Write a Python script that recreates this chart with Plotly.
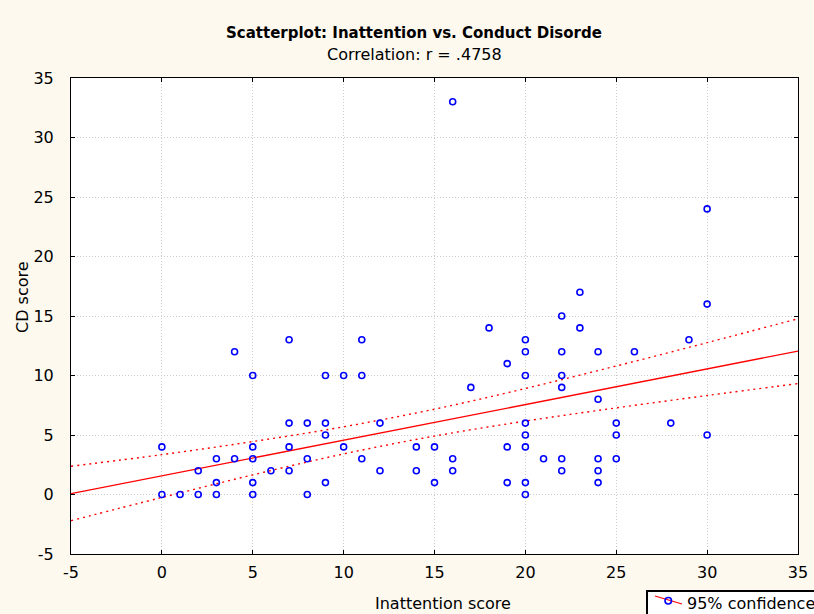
import plotly.graph_objects as go

inattention = [0, 0, 1, 2, 2, 3, 3, 3, 4, 4, 5, 5, 5, 5, 5, 6, 7, 7, 7, 7,
               8, 8, 8, 9, 9, 9, 9, 10, 10, 11, 11, 11, 12, 12, 14, 14, 15, 15,
               16, 16, 16, 17, 18, 19, 19, 19, 20, 20, 20, 20, 20, 20, 20, 20,
               21, 22, 22, 22, 22, 22, 22, 23, 23, 24, 24, 24, 24, 24, 25, 25,
               25, 26, 28, 29, 30, 30, 30]
cd_score = [4, 0, 0, 2, 0, 3, 1, 0, 3, 12, 10, 4, 3, 1, 0, 2, 13, 6, 4, 2,
            6, 3, 0, 10, 6, 5, 1, 10, 4, 13, 10, 3, 6, 2, 4, 2, 4, 1,
            33, 3, 2, 9, 14, 11, 4, 1, 13, 12, 10, 6, 5, 4, 1, 0,
            3, 15, 12, 10, 9, 3, 2, 17, 14, 12, 8, 3, 2, 1, 6, 5,
            3, 12, 6, 13, 24, 16, 5]

# regression line and 95% confidence band
fit_x = [-5, 35]
fit_y = [0.07, 12.05]
band_x = [-5, 0, 5, 10, 15, 20, 25, 30, 35]
band_upper = [2.37, 3.35, 4.45, 5.69, 7.17, 8.91, 10.8, 12.76, 14.77]
band_lower = [-2.2, -0.25, 1.65, 3.41, 4.91, 6.17, 7.28, 8.32, 9.32]

x_ticks = [-5, 0, 5, 10, 15, 20, 25, 30, 35]
y_ticks = [-5, 0, 5, 10, 15, 20, 25, 30, 35]
tick_labels = ["-5", "0", "5", "10", "15", "20", "25", "30", "35"]

FONT = "DejaVu Sans"

fig = go.Figure()
for band in (band_upper, band_lower):
    fig.add_trace(go.Scatter(x=band_x, y=band, mode="lines", line_shape="spline",
                             line=dict(color="red", width=1.4, dash="2px,4px"), showlegend=False))
fig.add_trace(go.Scatter(x=fit_x, y=fit_y, mode="lines",
                         line=dict(color="red", width=1.3), showlegend=False))
fig.add_trace(go.Scatter(x=inattention, y=cd_score, mode="markers",
                         marker=dict(symbol="circle-open", color="#0000ff", size=6,
                                     line=dict(width=1.6, color="#0000ff")),
                         showlegend=False))

axis_common = dict(
    showline=True, linecolor="black", linewidth=1, mirror="ticks",
    ticks="inside", ticklen=4, tickcolor="black", automargin=False,
    showgrid=True, gridcolor="#cccccc", griddash="1px,2px", gridwidth=1,
    zeroline=False, tickfont=dict(family=FONT, size=16, color="black"),
)
fig.update_xaxes(range=[-5, 35], tickvals=x_ticks, ticktext=tick_labels,
                 ticklabelstandoff=4, **axis_common)
fig.update_yaxes(range=[-5, 35], tickvals=y_ticks, ticktext=tick_labels,
                 ticklabelstandoff=13, **axis_common)

# legend drawn by hand: it sits partly outside the page, as in the original
def px_x(p):
    return (p - 71) / 727

def px_y(p):
    return (554 - p) / 476

shapes = [
    dict(type="rect", xref="paper", yref="paper", x0=px_x(647), x1=px_x(840),
         y0=px_y(591), y1=px_y(640), line=dict(color="black", width=2), fillcolor="white"),
    dict(type="line", xref="paper", yref="paper", x0=px_x(655), x1=px_x(682),
         y0=px_y(596), y1=px_y(604), line=dict(color="red", width=1.3)),
    dict(type="circle", xref="paper", yref="paper", x0=px_x(665), x1=px_x(671.5),
         y0=px_y(597.5), y1=px_y(604), line=dict(color="#0000ff", width=1.6)),
]

def label(text, x, y, size=16, **kw):
    return dict(text=text, x=px_x(x), y=px_y(y), xref="paper", yref="paper",
                xanchor=kw.pop("xanchor", "center"), yanchor="middle",
                showarrow=False, font=dict(size=size), **kw)

fig.update_layout(
    width=814, height=614,
    margin=dict(l=71, r=16, t=78, b=60, autoexpand=False),
    paper_bgcolor="#fdf9ef", plot_bgcolor="white",
    font=dict(family=FONT, color="black"),
    showlegend=False,
    shapes=shapes,
    annotations=[
        label("<b>Scatterplot: Inattention vs. Conduct Disorde</b>", 414, 33, size=15),
        label("Correlation: r = .4758", 414, 55),
        label("Inattention score", 443, 603),
        label("CD score", 22, 297, textangle=-90),
        label("95% confidence", 685, 603, xanchor="left"),
    ],
)

fig.write_html("out.html", config={"displayModeBar": False},
               post_script="document.body.style.margin='0';")
